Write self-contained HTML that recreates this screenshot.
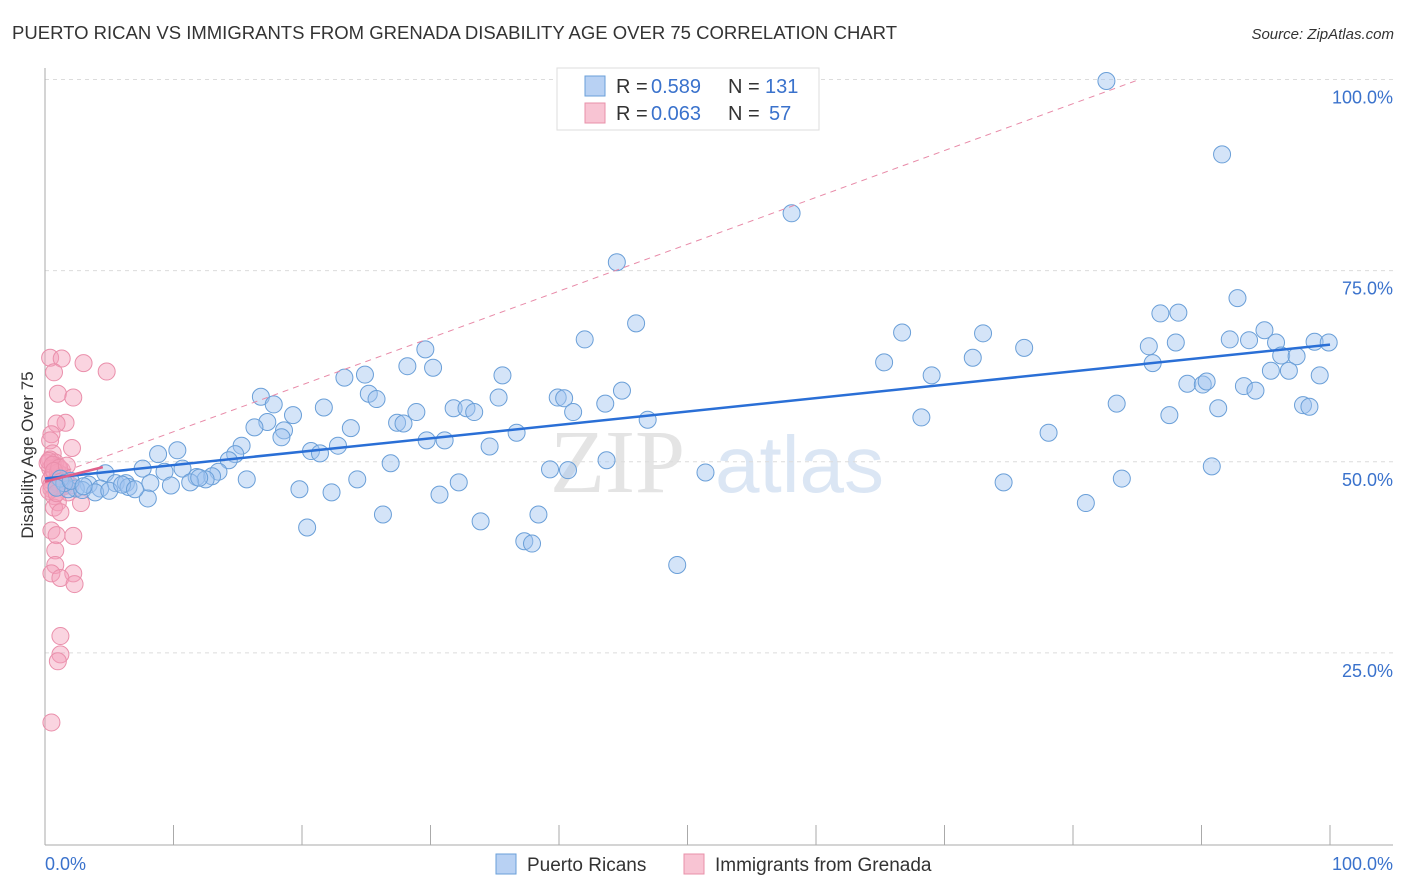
<!DOCTYPE html>
<html><head><meta charset="utf-8">
<style>
body{margin:0;background:#fff;font-family:"Liberation Sans",sans-serif;}
svg{display:block}
</style></head>
<body>
<svg id="chart" width="1406" height="892" xmlns="http://www.w3.org/2000/svg">
<text x="12" y="39" font-size="18.5" fill="#333" textLength="885" lengthAdjust="spacingAndGlyphs">PUERTO RICAN VS IMMIGRANTS FROM GRENADA DISABILITY AGE OVER 75 CORRELATION CHART</text>
<text x="1394" y="39" font-size="15" font-style="italic" fill="#333" text-anchor="end">Source: ZipAtlas.com</text>
<text x="550" y="492" font-size="90" fill="#e4e4e4" font-family="Liberation Serif,serif">ZIP</text>
<text x="715" y="492" font-size="80" fill="#dbe6f4">atlas</text>
<g id="grid"></g>
<g id="axes"></g>
<g id="pinkPts"></g>
<g id="bluePts"></g>
<g id="lines"></g>
<text transform="translate(33,455) rotate(-90)" font-size="17" fill="#333" text-anchor="middle">Disability Age Over 75</text>
<g>
<rect x="557" y="68" width="262" height="62" fill="#fff" stroke="#ddd"/>
<rect x="585" y="76" width="20" height="20" fill="#b8d1f3" stroke="#6a9fd8"/>
<rect x="585" y="103" width="20" height="20" fill="#f8c4d3" stroke="#e890aa"/>
<text x="616" y="93" font-size="20" fill="#333">R =</text>
<text x="651" y="93" font-size="20" fill="#3a72cc">0.589</text>
<text x="728" y="93" font-size="20" fill="#333">N =</text>
<text x="765" y="93" font-size="20" fill="#3a72cc">131</text>
<text x="616" y="120" font-size="20" fill="#333">R =</text>
<text x="651" y="120" font-size="20" fill="#3a72cc">0.063</text>
<text x="728" y="120" font-size="20" fill="#333">N =</text>
<text x="769" y="120" font-size="20" fill="#3a72cc">57</text>
</g>
<g>
<rect x="496" y="854" width="20" height="20" fill="#b8d1f3" stroke="#6a9fd8"/>
<text x="527" y="871" font-size="19" fill="#333">Puerto Ricans</text>
<rect x="684" y="854" width="20" height="20" fill="#f8c4d3" stroke="#e890aa"/>
<text x="715" y="871" font-size="19" fill="#333">Immigrants from Grenada</text>
</g>
</svg>
<script>
const yTicks=[25,50,75,100];
const yTickLabels=["25.0%","50.0%","75.0%","100.0%"];
const xTicks=[0,10,20,30,40,50,60,70,80,90,100];
const blueX=[82.6,91.6,58.1,44.5,92.8,46.0,66.7,73.0,86.8,88.2,94.9,42.0,85.9,88.0,92.2,93.7,95.8,98.8,99.9,76.2,29.6,72.2,65.3,86.2,96.2,97.4,28.2,30.2,95.4,96.8,69.0,24.9,23.3,35.6,99.2,88.9,90.1,90.4,93.3,94.2,44.9,25.2,16.8,35.3,39.9,40.4,25.8,43.6,83.4,97.9,98.4,17.8,21.7,31.8,32.8,33.4,28.9,91.3,41.1,19.3,68.2,87.5,46.9,17.3,27.4,27.9,16.3,23.8,18.6,78.1,36.7,18.4,29.7,31.1,15.3,22.8,34.6,10.3,20.7,21.4,8.8,14.8,14.3,43.7,26.9,90.8,39.3,40.7,51.4,7.6,10.7,9.3,13.5,4.7,13.0,11.8,12.5,15.7,24.3,83.8,74.6,32.2,5.5,6.3,8.2,9.8,11.3,3.4,6.5,2.4,4.3,1.8,19.8,22.3,8.0,30.7,81.0,26.3,38.4,33.9,20.4,37.3,37.9,49.2,1.2,1.5,2.9,3.9,0.9,2.0,3.0,5.0,6.0,7.0,12.0];
const blueY=[99.8,90.2,82.5,76.1,71.4,68.1,66.9,66.8,69.4,69.5,67.2,66.0,65.1,65.6,66.0,65.9,65.6,65.7,65.6,64.9,64.7,63.6,63.0,62.9,63.9,63.8,62.5,62.3,61.9,61.9,61.3,61.4,61.0,61.3,61.3,60.2,60.1,60.5,59.9,59.3,59.3,58.9,58.5,58.4,58.4,58.3,58.2,57.6,57.6,57.4,57.2,57.5,57.1,57.0,57.0,56.5,56.5,57.0,56.5,56.1,55.8,56.1,55.5,55.2,55.1,55.0,54.5,54.4,54.1,53.8,53.8,53.2,52.8,52.8,52.1,52.1,52.0,51.5,51.4,51.1,51.0,51.0,50.2,50.2,49.8,49.4,49.0,48.9,48.6,49.1,49.1,48.7,48.7,48.5,48.1,48.0,47.7,47.7,47.7,47.8,47.3,47.3,47.2,47.2,47.2,46.9,47.3,47.0,46.7,46.5,46.5,46.4,46.4,46.0,45.2,45.7,44.6,43.1,43.1,42.2,41.4,39.6,39.3,36.5,47.8,47.2,46.3,46.0,46.6,47.5,46.8,46.2,47.0,46.4,47.9];
const pinkX=[0.4,1.3,3.0,4.8,0.7,1.0,2.2,1.6,0.9,0.5,0.4,2.1,0.6,0.4,0.8,1.0,0.4,1.3,0.6,1.1,0.4,0.9,1.5,0.5,1.8,0.7,1.0,2.8,0.7,1.2,0.5,0.9,2.2,0.8,0.8,2.2,0.5,1.2,2.3,1.2,1.2,1.0,0.5,0.2,1.6,2.0,0.3,0.6,1.0,1.4,0.8,0.5,1.1,0.7,1.7,0.3,0.9];
const pinkY=[63.6,63.5,62.9,61.8,61.7,58.9,58.4,55.1,55.0,53.6,52.8,51.8,51.1,50.3,49.9,49.4,49.1,48.9,48.4,48.0,47.6,47.2,46.8,46.4,46.0,45.5,44.7,44.6,44.0,43.4,41.0,40.4,40.3,38.4,36.5,35.4,35.4,34.8,34.0,27.2,24.8,23.9,15.9,49.8,47.6,46.9,50.1,49.6,48.6,48.2,47.4,47.0,49.2,48.8,49.5,46.2,45.9];
const pinkTrend=[[0,47.4],[4.5,49.3]];
const pinkDash=[[0,47.8],[85,99.9]];

const NS="http://www.w3.org/2000/svg";
const x0=45,x1=1330,yTop=79.5,yBot=844;
const sx=v=>x0+(x1-x0)*v/100;
const sy=v=>yBot-(yBot-yTop)*v/100;
function mk(tag,attrs,parent){const e=document.createElementNS(NS,tag);for(const k in attrs)e.setAttribute(k,attrs[k]);parent.appendChild(e);return e;}
const grid=document.getElementById('grid'),axes=document.getElementById('axes');
yTicks.forEach((t,i)=>{
  const l=mk('line',{x1:x0,x2:1393,y1:sy(t),y2:sy(t),stroke:'#dcdcdc','stroke-dasharray':'4,4'},grid);
  
  
  const tx=mk('text',{x:1393,y:sy(t)+24,'font-size':18,fill:'#3a72cc','text-anchor':'end'},axes);
  tx.textContent=yTickLabels[i];
  
  
});
const ya=mk('line',{x1:x0,x2:x0,y1:68,y2:845,stroke:'#aaa'},axes);


const xa=mk('line',{x1:x0,x2:1393,y1:845,y2:845,stroke:'#aaa'},axes);


xTicks.forEach(t=>{
  const l=mk('line',{x1:sx(t),x2:sx(t),y1:825,y2:845,stroke:'#aaa'},axes);
  
  
});
const xl0=mk('text',{x:45,y:870,'font-size':18,fill:'#3a72cc'},axes);xl0.textContent='0.0%';


const xl1=mk('text',{x:1393,y:870,'font-size':18,fill:'#3a72cc','text-anchor':'end'},axes);xl1.textContent='100.0%';



const pg=document.getElementById('pinkPts');
pinkX.forEach((v,i)=>{
  const c=mk('circle',{cx:sx(v),cy:sy(pinkY[i]),r:8.5,fill:'rgba(244,160,186,0.45)',stroke:'#ea8fab','stroke-width':1},pg);
  
  
});
const bg=document.getElementById('bluePts');
blueX.forEach((v,i)=>{
  const c=mk('circle',{cx:sx(v),cy:sy(blueY[i]),r:8.5,fill:'rgba(160,195,240,0.45)',stroke:'#6a9fd8','stroke-width':1},bg);
  
  
});
const n=blueX.length;let mx=0,my=0;blueX.forEach((v,i)=>{mx+=v;my+=blueY[i];});mx/=n;my/=n;
let sxy=0,sxx=0;blueX.forEach((v,i)=>{sxy+=(v-mx)*(blueY[i]-my);sxx+=(v-mx)*(v-mx);});
const b=sxy/sxx,a=my-b*mx;
const lg=document.getElementById('lines');
const pd=mk('line',{x1:sx(pinkDash[0][0]),y1:sy(pinkDash[0][1]),x2:sx(pinkDash[1][0]),y2:sy(pinkDash[1][1]),stroke:'#e88aa8','stroke-width':1,'stroke-dasharray':'6,5'},lg);


const bl=mk('line',{x1:sx(0),y1:sy(a),x2:sx(100),y2:sy(a+100*b),stroke:'#2a6fd6','stroke-width':2.5},lg);


const pl=mk('line',{x1:sx(pinkTrend[0][0]),y1:sy(pinkTrend[0][1]),x2:sx(pinkTrend[1][0]),y2:sy(pinkTrend[1][1]),stroke:'#e0608a','stroke-width':2.5},lg);


</script>
</body></html>
